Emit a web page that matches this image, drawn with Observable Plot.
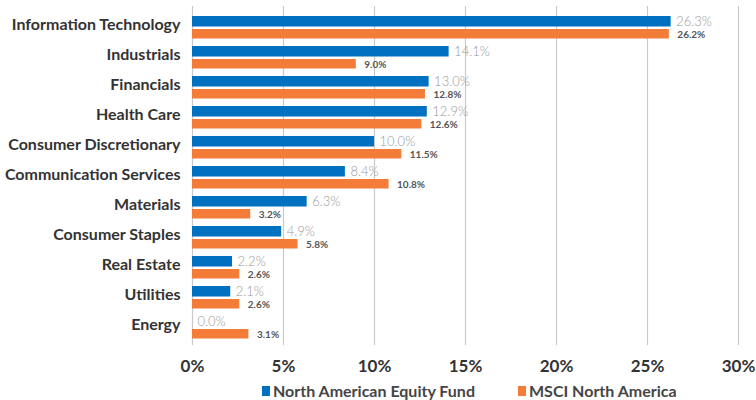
<!DOCTYPE html>
<html><head><meta charset="utf-8">
<script src="https://cdn.jsdelivr.net/npm/d3@7"></script>
<script src="https://cdn.jsdelivr.net/npm/@observablehq/plot@0.6"></script>
<style>
body{margin:0;background:#fff;font-family:Lato,"Open Sans",sans-serif;}
#legend{position:absolute;top:381px;left:0;width:756px;height:19px;font:bold 16px Lato,sans-serif;color:#454545;}
.li{position:absolute;top:0;display:flex;align-items:center;}
.sw{width:8px;height:10px;margin-right:3px;}
</style></head><body>
<div id="chart"></div>
<div id="legend"></div>
<script>
const sectors = ["Information Technology","Industrials","Financials","Health Care","Consumer Discretionary","Communication Services","Materials","Consumer Staples","Real Estate","Utilities","Energy"];
const fundValues = [26.3,14.1,13.0,12.9,10.0,8.4,6.3,4.9,2.2,2.1,0.0];
const msciValues = [26.2,9.0,12.8,12.6,11.5,10.8,3.2,5.8,2.6,2.6,3.1];
const seriesNames = ["North American Equity Fund","MSCI North America"];
const colors = ["#0071C1","#F27C38"];
const xTicks = [0,5,10,15,20,25,30];

const fund = sectors.map((s,i)=>({sector:s,value:fundValues[i]}));
const msci = sectors.map((s,i)=>({sector:s,value:msciValues[i]}));

const H = 378, plotTop = 6, plotBottom = 345;
const plot = Plot.plot({
  width: 756, height: H,
  marginLeft: 192, marginRight: 18, marginTop: plotTop, marginBottom: H - plotBottom,
  style: {fontFamily: "Lato, sans-serif", background: "#fff"},
  x: {domain: [0,30], ticks: xTicks, tickFormat: d => d + "%", label: null},
  y: {domain: sectors, padding: 0, label: null},
  marks: [
    Plot.ruleX(xTicks, {stroke: "#c9c9c9", strokeWidth: 1.2}),
    Plot.barX(fund, {x: "value", y: "sector", fill: colors[0], insetTop: 5, insetBottom: 14.5}),
    Plot.barX(msci, {x: "value", y: "sector", fill: colors[1], insetTop: 18, insetBottom: 2.5}),
    Plot.text(fund, {x: "value", y: "sector", text: d => d.value.toFixed(1) + "%", dx: 5, dy: -5, textAnchor: "start", fill: "#999", fontSize: 13, fontWeight: 300}),
    Plot.text(msci, {x: "value", y: "sector", text: d => d.value.toFixed(1) + "%", dx: 8, dy: 8, textAnchor: "start", fill: "#555", fontSize: 10, fontWeight: "bold"}),
    Plot.axisX({ticks: xTicks, tickFormat: d => d + "%", tickSize: 0, tickPadding: 14, fontSize: 17, fontWeight: "bold", fill: "#333", label: null}),
    Plot.axisY({tickSize: 0, tickPadding: 12, fontSize: 16, fontWeight: "bold", fill: "#333", label: null, dy: -2})
  ]
});
document.getElementById("chart").appendChild(plot);

const lg = document.getElementById("legend");
const pos = [262, 518];
seriesNames.forEach((n,i)=>{
  const d = document.createElement("div");
  d.className = "li"; d.style.left = pos[i] + "px";
  d.innerHTML = `<span class="sw" style="background:${colors[i]}"></span><span>${n}</span>`;
  lg.appendChild(d);
});
</script>
</body></html>
